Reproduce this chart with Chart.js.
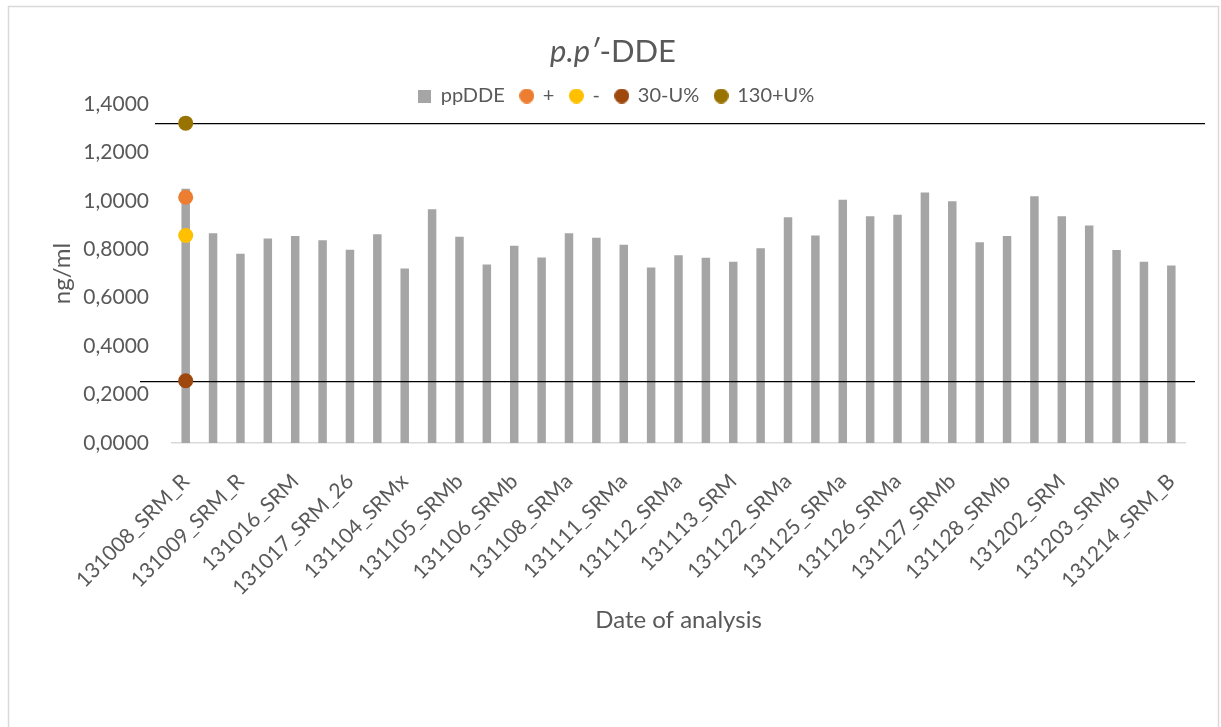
<!DOCTYPE html>
<html>
<head>
<meta charset="utf-8">
<script src="https://cdn.jsdelivr.net/npm/chart.js@4/dist/chart.umd.min.js"></script>
<style>
  html, body { margin: 0; padding: 0; background: #ffffff; }
  #wrap { width: 1221px; height: 727px; position: relative; }
</style>
</head>
<body>
<div id="wrap"><canvas id="chart" width="1221" height="727"></canvas></div>
<script>
// Analysis runs (only every other run is labelled on the axis)
const analysisDates = [
  '131008_SRM_R', '', '131009_SRM_R', '', '131016_SRM', '', '131017_SRM_26', '',
  '131104_SRMx', '', '131105_SRMb', '', '131106_SRMb', '', '131108_SRMa', '',
  '131111_SRMa', '', '131112_SRMa', '', '131113_SRM', '', '131122_SRMa', '',
  '131125_SRMa', '', '131126_SRMa', '', '131127_SRMb', '', '131128_SRMb', '',
  '131202_SRM', '', '131203_SRMb', '', '131214_SRM_B'
];

// Measured p,p'-DDE concentration per run (ng/ml)
const ppDDE = [
  1.050, 0.866, 0.782, 0.845, 0.855, 0.837, 0.798, 0.862, 0.721, 0.965,
  0.852, 0.737, 0.815, 0.766, 0.866, 0.848, 0.819, 0.725, 0.775, 0.765,
  0.749, 0.804, 0.932, 0.857, 1.005, 0.936, 0.943, 1.034, 0.998, 0.829,
  0.855, 1.019, 0.936, 0.898, 0.797, 0.749, 0.733
];

// Reference limits, plotted on the first run
const plusLimit  = [1.015];   // +
const minusLimit = [0.857];   // -
const lowerLimit = [0.257];   // 30-U%
const upperLimit = [1.321];   // 130+U%

// Value axis
const yMin = 0;
const yMax = 1.4;
const yStep = 0.2;

const FONT = 'Lato';
const TEXT = '#595959';
const COLORS = {
  bar: '#A5A5A5',
  plus: '#ED7D31',
  minus: '#FFC000',
  lower: '#9E480E',
  upper: '#997300'
};

// Small canvases used as legend icons (square for the bars, dots for the limits)
function icon(shape, color, size) {
  const c = document.createElement('canvas');
  c.width = size; c.height = size;
  const g = c.getContext('2d');
  g.fillStyle = color;
  if (shape === 'rect') {
    g.fillRect(0, 0, size, size);
  } else {
    g.beginPath();
    g.arc(size / 2, size / 2, size / 2, 0, Math.PI * 2);
    g.fill();
  }
  return c;
}
const legendIcons = [
  icon('rect', COLORS.bar, 13),
  icon('circle', COLORS.plus, 15),
  icon('circle', COLORS.minus, 15),
  icon('circle', COLORS.lower, 15),
  icon('circle', COLORS.upper, 15)
];

// White page with a thin grey frame
const framePlugin = {
  id: 'frame',
  beforeDraw(chart) {
    const ctx = chart.ctx;
    ctx.save();
    ctx.fillStyle = '#ffffff';
    ctx.fillRect(0, 0, chart.width, chart.height);
    ctx.strokeStyle = '#d9d9d9';
    ctx.lineWidth = 1.5;
    ctx.strokeRect(8.5, 6.5, chart.width - 11, chart.height + 20);
    ctx.restore();
  }
};

// Title with the italic p.p' prefix
const titlePlugin = {
  id: 'mixedTitle',
  afterDraw(chart) {
    const ctx = chart.ctx;
    const size = 31;
    const italic = 'italic ' + size + 'px ' + FONT;
    const normal = size + 'px ' + FONT;
    const partA = 'p.p\u2032';
    const partB = '-DDE';
    ctx.save();
    ctx.fillStyle = TEXT;
    ctx.textBaseline = 'alphabetic';
    ctx.textAlign = 'left';
    ctx.font = italic;
    const wA = ctx.measureText(partA).width;
    ctx.font = normal;
    const wB = ctx.measureText(partB).width;
    const cx = 613;
    const x0 = cx - (wA + wB) / 2;
    ctx.font = italic;
    ctx.fillText(partA, x0, 62);
    ctx.font = normal;
    ctx.fillText(partB, x0 + wA, 62);
    ctx.restore();
  }
};

// Legend sits a little lower, close to the plot
const legendShift = {
  id: 'legendShift',
  afterLayout(chart) {
    if (chart.legend) {
      chart.legend.top += 12;
      chart.legend.bottom += 12;
    }
  }
};

// Horizontal limit lines through the 30-U% and 130+U% values
const limitLines = {
  id: 'limitLines',
  afterDatasetDraw(chart, args) {
    if (args.index !== 0) return;
    const y = chart.scales.y;
    const area = chart.chartArea;
    const ctx = chart.ctx;
    ctx.save();
    ctx.strokeStyle = '#000000';
    ctx.lineWidth = 1.25;
    const yu = Math.round(y.getPixelForValue(upperLimit[0])) + 0.5;
    ctx.beginPath();
    ctx.moveTo(area.left - 17, yu);
    ctx.lineTo(area.right + 20, yu);
    ctx.stroke();
    const yl = Math.round(y.getPixelForValue(lowerLimit[0])) + 0.5;
    ctx.beginPath();
    ctx.moveTo(area.left - 32, yl);
    ctx.lineTo(area.right + 10, yl);
    ctx.stroke();
    ctx.restore();
  }
};

function pointSeries(label, data, color) {
  return {
    type: 'line',
    label: label,
    data: data,
    showLine: false,
    order: 0,
    pointRadius: 7.5,
    pointHoverRadius: 7.5,
    pointBorderWidth: 0,
    pointBackgroundColor: color,
    backgroundColor: color,
    borderColor: color
  };
}

new Chart(document.getElementById('chart'), {
  type: 'bar',
  data: {
    labels: analysisDates,
    datasets: [
      {
        label: 'ppDDE',
        data: ppDDE,
        backgroundColor: COLORS.bar,
        borderWidth: 0,
        order: 1,
        categoryPercentage: 1.0,
        barPercentage: 0.31
      },
      pointSeries('+', plusLimit, COLORS.plus),
      pointSeries('-', minusLimit, COLORS.minus),
      pointSeries('30-U%', lowerLimit, COLORS.lower),
      pointSeries('130+U%', upperLimit, COLORS.upper)
    ]
  },
  options: {
    responsive: false,
    animation: false,
    devicePixelRatio: 1,
    layout: { padding: { top: 58, left: 48, right: 36, bottom: 92 } },
    plugins: {
      title: { display: false },
      tooltip: { enabled: false },
      legend: {
        display: true,
        position: 'top',
        labels: {
          usePointStyle: true,
          boxHeight: 14,
          pointStyleWidth: 12,
          padding: 16,
          color: TEXT,
          font: { family: FONT, size: 20 },
          sort: (a, b) => a.datasetIndex - b.datasetIndex,
          generateLabels(chart) {
            const items = Chart.defaults.plugins.legend.labels.generateLabels(chart);
            items.forEach((it) => { it.pointStyle = legendIcons[it.datasetIndex]; });
            return items;
          }
        }
      }
    },
    scales: {
      x: {
        grid: { display: false, drawTicks: false },
        border: { display: true, color: '#d9d9d9', width: 1.5 },
        ticks: {
          autoSkip: false,
          maxRotation: 45,
          minRotation: 45,
          padding: 26,
          color: TEXT,
          font: { family: FONT, size: 21 }
        },
        title: {
          display: true,
          text: 'Date of analysis',
          color: TEXT,
          padding: 0,
          font: { family: FONT, size: 24 }
        },
        afterFit(scale) { scale.height = 192; }
      },
      y: {
        min: yMin,
        max: yMax,
        grid: { display: false, drawTicks: false },
        border: { display: false },
        ticks: {
          stepSize: yStep,
          padding: 23,
          color: TEXT,
          font: { family: FONT, size: 21 },
          callback: (v) => Number(v).toFixed(4).replace('.', ',')
        },
        title: {
          display: true,
          text: 'ng/ml',
          color: TEXT,
          padding: 0,
          font: { family: FONT, size: 24 }
        },
        afterFit(scale) { scale.width = 124; }
      }
    }
  },
  plugins: [framePlugin, legendShift, limitLines, titlePlugin]
});
</script>
</body>
</html>
